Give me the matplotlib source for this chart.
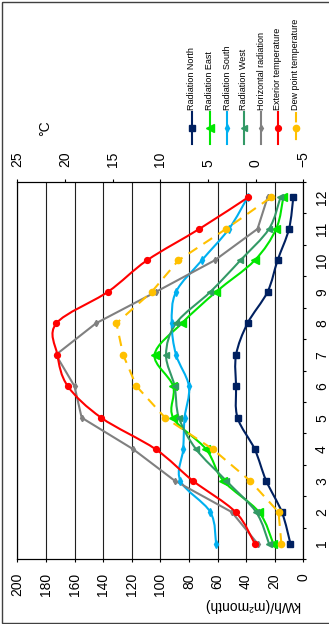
import numpy as np
import matplotlib
matplotlib.use("Agg")
import matplotlib.pyplot as plt
from matplotlib.path import Path
from matplotlib.patches import PathPatch, Rectangle
from matplotlib.lines import Line2D

plt.rcParams['font.family'] = ['Liberation Sans', 'DejaVu Sans']

# monthly data
months = np.arange(1, 13)
rad_north = [9, 15, 26, 34, 46, 47, 47, 39, 25, 18, 10, 7]
rad_east = [21, 31, 56, 68, 91, 91, 104, 85, 61, 34, 19, 14]
rad_south = [61, 65, 86, 84, 83, 80, 89, 92, 89, 71, 52, 39]
rad_west = [24, 33, 54, 75, 87, 90, 96, 89, 65, 44, 24, 16]
rad_horizontal = [32, 50, 90, 119, 155, 160, 173, 145, 103, 62, 32, 25]
temp_exterior = [0.1, 2.1, 6.6, 10.5, 16.2, 19.7, 20.8, 20.9, 15.5, 11.4, 5.9, 0.8]
temp_dew = [-2.7, -2.4, 0.6, 4.5, 9.5, 12.5, 13.9, 14.6, 10.9, 8.1, 3.1, -1.6]

labels = ['Radiation North', 'Radiation East', 'Radiation South', 'Radiation West',
          'Horizontal radiation', 'Exterior temperature', 'Dew point temperature']

W, H = 329, 624
fig = plt.figure(figsize=(W / 100, H / 100), dpi=100)

# plot area in pixels (chart is drawn turned a quarter turn)
L, R, T, B = 17.3, 303.3, 181.7, 559.3
ax = fig.add_axes([L / W, 1 - B / H, (R - L) / W, (B - T) / H])


def smooth_path(xs, ys):
    # smoothed line through the points (Catmull-Rom as cubic bezier)
    pts = np.column_stack([xs, ys]).astype(float)
    verts = [pts[0]]
    codes = [Path.MOVETO]
    n = len(pts)
    for i in range(n - 1):
        p0 = pts[i - 1] if i > 0 else pts[i]
        p3 = pts[i + 2] if i + 2 < n else pts[i + 1]
        c1 = pts[i] + (pts[i + 1] - p0) / 6
        c2 = pts[i + 1] - (p3 - pts[i]) / 6
        verts += [c1, c2, pts[i + 1]]
        codes += [Path.CURVE4] * 3
    return Path(verts, codes)


def series(axis, vals, color, marker, ms, smooth=True, ls='-', dashes=None):
    if smooth:
        axis.add_patch(PathPatch(smooth_path(vals, months), fill=False,
                                 edgecolor=color, lw=1.5, zorder=3))
    else:
        ln, = axis.plot(vals, months, color=color, lw=1.5, ls=ls, zorder=3)
        if dashes:
            ln.set_dashes(dashes)
    axis.plot(vals, months, ls='none', marker=marker, ms=ms, color=color,
              mec=color, zorder=4)


c_north = '#002060'
c_east = '#00e600'
c_south = '#00b0f0'
c_west = '#339966'
c_hor = '#808080'
c_ext = '#ff0000'
c_dew = '#ffc000'

series(ax, rad_north, c_north, 's', 4.2)
series(ax, rad_east, c_east, '<', 5.5)
series(ax, rad_south, c_south, 'd', 3.8)
series(ax, rad_west, c_west, '<', 4.5)
series(ax, rad_horizontal, c_hor, 'd', 3.2, smooth=False)

ax.set_xlim(200, 0)
ax.set_ylim(0.5, 12.5)
ax.set_xticks(range(0, 201, 20))
ax.xaxis.grid(True, color='#202020', lw=0.8)
ax.set_axisbelow(True)
ax.yaxis.tick_right()
ax.set_yticks(months)
ax.set_yticks(np.arange(0.5, 13, 1), minor=True)
ax.tick_params(axis='y', which='major', length=0, pad=8.4, labelsize=10,
               labelrotation=90)
ax.tick_params(axis='y', which='minor', length=2.4, width=0.8, direction='out')
ax.tick_params(axis='x', length=2.4, width=0.8, pad=7.5, labelsize=10,
               labelrotation=90)
for lab in ax.get_yticklabels():
    lab.set_va('center')
for sp in ax.spines.values():
    sp.set_linewidth(0.8)

ax2 = ax.twiny()
series(ax2, temp_exterior, c_ext, 'o', 4.2)
series(ax2, temp_dew, c_dew, 'o', 4.5, smooth=False, dashes=(5, 3.5))
ax2.set_xlim(25, -5)
ax2.set_xticks(range(-5, 26, 5))
ax2.tick_params(axis='x', length=2.4, width=0.8, pad=8.5, labelsize=10,
                labelrotation=90)
for sp in ax2.spines.values():
    sp.set_linewidth(0.8)

# overlay in pixel coordinates for legend, labels and frame
lax = fig.add_axes([0, 0, 1, 1], zorder=-1)
lax.set_xlim(0, W)
lax.set_ylim(H, 0)
lax.axis('off')
lax.add_patch(Rectangle((1.5, 1.5), W + 5, H - 3, fill=False,
                        edgecolor='#404040', lw=1))

lax.text(45, 128, '°C', rotation=90, ha='center', va='center', fontsize=10)
lax.text(252, 605, 'kWh/(m²month)', rotation=180, ha='center', va='center',
         fontsize=10)

leg_colors = [c_north, c_east, c_south, c_west, c_hor, c_ext, c_dew]
leg_markers = ['s', '<', 'd', '<', 'd', 'o', 'o']
leg_ms = [4.2, 5.5, 3.8, 4.5, 3.2, 4.2, 4.5]
leg_x = [192, 210, 227, 244, 261, 278, 296]
for i in range(7):
    ls = '--' if i == 6 else '-'
    ln = Line2D([leg_x[i], leg_x[i]], [112, 144], color=leg_colors[i], lw=1.5,
                ls=ls)
    if i == 6:
        ln.set_dashes((5, 3.5))
    lax.add_line(ln)
    lax.add_line(Line2D([leg_x[i]], [128], ls='none', marker=leg_markers[i],
                        ms=leg_ms[i], color=leg_colors[i]))
    lax.text(leg_x[i], 110, labels[i], rotation=90, ha='center', va='bottom',
             fontsize=6.5)

fig.savefig('out.png', dpi=100, facecolor='white')
